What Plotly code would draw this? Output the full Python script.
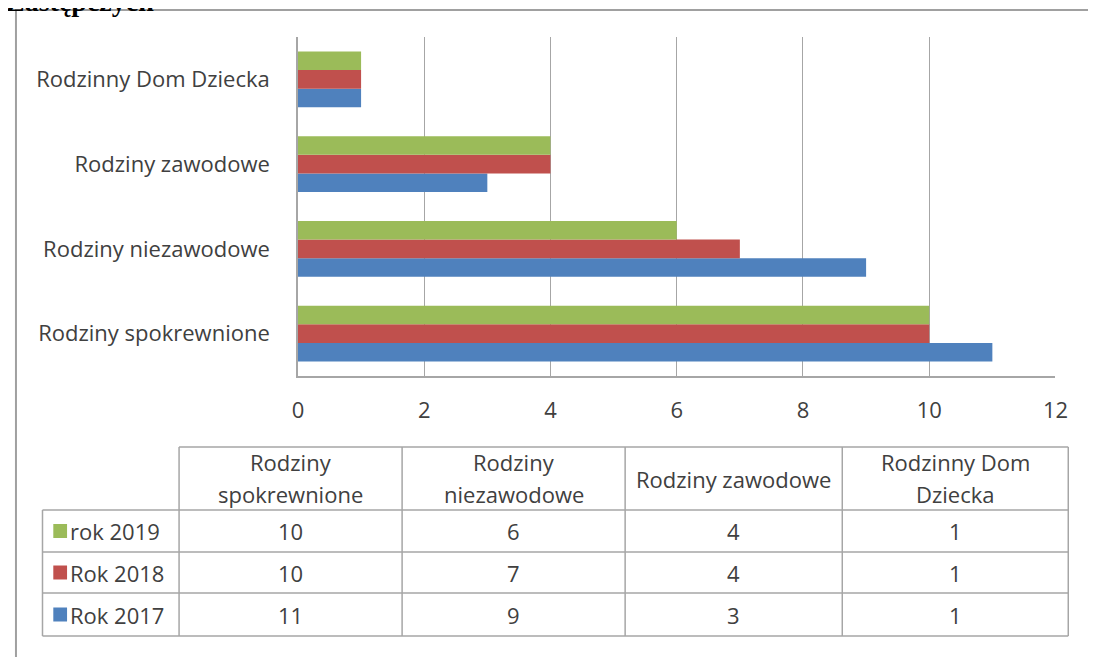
import plotly.graph_objects as go

# page body keeps its default 8px margin, so the figure starts at (8, 8)
OFF = 8
W, H = 1096 - OFF, 657 - OFF

categories = ["Rodziny spokrewnione", "Rodziny niezawodowe", "Rodziny zawodowe", "Rodzinny Dom Dziecka"]
header_lines = [["Rodziny", "spokrewnione"], ["Rodziny", "niezawodowe"], ["Rodziny zawodowe"], ["Rodzinny Dom", "Dziecka"]]
series_names = ["Rok 2017", "Rok 2018", "rok 2019"]
values_2017 = [11, 9, 3, 1]
values_2018 = [10, 7, 4, 1]
values_2019 = [10, 6, 4, 1]
colors = ["#4F81BD", "#C0504D", "#9BBB59"]
x_ticks = [0, 2, 4, 6, 8, 10, 12]

FONT = "Open Sans, Lato, sans-serif"
TXT = "#404040"
GRID = "#a6a6a6"
FS = 22


def px_x(p):
    return (p - OFF) / W


def px_y(p):
    return 1 - (p - OFF) / H


series = [values_2017, values_2018, values_2019]

traces = []
for name, vals, col in zip(series_names, series, colors):
    traces.append(
        go.Bar(
            y=categories,
            x=vals,
            name=name,
            orientation="h",
            marker=dict(color=col, line=dict(width=0)),
            showlegend=False,
        )
    )

fig = go.Figure(data=traces)

fig.update_layout(
    width=W,
    height=H,
    barmode="group",
    bargap=0.34,
    bargroupgap=0,
    margin=dict(l=0, r=0, t=0, b=0),
    paper_bgcolor="white",
    plot_bgcolor="white",
    font=dict(family=FONT, size=FS, color=TXT),
    xaxis=dict(
        domain=[px_x(297), px_x(1068)],
        range=[0, 12],
        tickvals=x_ticks,
        showgrid=True,
        gridcolor=GRID,
        gridwidth=1,
        zeroline=False,
        showline=True,
        linecolor=GRID,
        linewidth=1.5,
        ticks="",
        ticklabelstandoff=14,
        tickfont=dict(family=FONT, size=FS, color=TXT),
        fixedrange=True,
    ),
    yaxis=dict(
        domain=[px_y(376), px_y(37)],
        showgrid=False,
        showline=True,
        linecolor=GRID,
        linewidth=1.5,
        ticks="",
        ticklabelstandoff=22,
        tickfont=dict(family=FONT, size=FS, color=TXT),
        fixedrange=True,
    ),
)

# ---- data table under the chart (Excel style, legend keys in first column)
col_x = [37, 176, 403, 630, 851, 1081]
row_y = [447, 510, 552, 593, 636]
line = dict(color=GRID, width=1.5)


def hline(y, x0, x1):
    fig.add_shape(type="line", xref="paper", yref="paper",
                  x0=px_x(x0), x1=px_x(x1), y0=px_y(y), y1=px_y(y), line=line)


def vline(x, y0, y1):
    fig.add_shape(type="line", xref="paper", yref="paper",
                  x0=px_x(x), x1=px_x(x), y0=px_y(y0), y1=px_y(y1), line=line)


hline(row_y[0], col_x[1], col_x[-1])
for y in row_y[1:]:
    hline(y, col_x[0], col_x[-1])
vline(col_x[0], row_y[1], row_y[-1])
for x in col_x[1:]:
    vline(x, row_y[0], row_y[-1])

# header texts
for c, lines in enumerate(header_lines):
    cx = (col_x[c + 1] + col_x[c + 2]) / 2
    if len(lines) == 1:
        ys = [(row_y[0] + row_y[1]) / 2]
    else:
        ys = [row_y[0] + 15, row_y[0] + 47]
    for txt, yy in zip(lines, ys):
        fig.add_annotation(text=txt, xref="paper", yref="paper",
                           x=px_x(cx), y=px_y(yy), xanchor="center", yanchor="middle",
                           showarrow=False, font=dict(family=FONT, size=FS, color=TXT))

# body rows: 2019 on top, 2017 at the bottom
row_order = [2, 1, 0]
for r, si in enumerate(row_order):
    cy = (row_y[r + 1] + row_y[r + 2]) / 2
    fig.add_shape(type="rect", xref="paper", yref="paper",
                  x0=px_x(48), x1=px_x(62), y0=px_y(cy + 7), y1=px_y(cy - 7),
                  fillcolor=colors[si], line=dict(width=0))
    fig.add_annotation(text=series_names[si], xref="paper", yref="paper",
                       x=px_x(63), y=px_y(cy), xanchor="left", yanchor="middle",
                       showarrow=False, font=dict(family=FONT, size=FS, color=TXT))
    for c in range(len(categories)):
        cx = (col_x[c + 1] + col_x[c + 2]) / 2
        fig.add_annotation(text=str(series[si][c]), xref="paper", yref="paper",
                           x=px_x(cx), y=px_y(cy), xanchor="center", yanchor="middle",
                           showarrow=False, font=dict(family=FONT, size=FS, color=TXT))

# outer frame of the pasted chart
fig.add_shape(
    type="rect",
    xref="paper",
    yref="paper",
    x0=px_x(10),
    x1=px_x(1110),
    y0=px_y(680),
    y1=px_y(10),
    line=dict(color="#a0a0a0", width=2),
    fillcolor="rgba(0,0,0,0)",
    layer="above",
)

# cut-off heading from the document above the chart
fig.add_annotation(
    text="<b>Zastępczych</b>",
    xref="paper",
    yref="paper",
    x=px_x(-2),
    y=px_y(19),
    xanchor="left",
    yanchor="bottom",
    showarrow=False,
    font=dict(family="Liberation Serif, Times New Roman, serif", size=28, color="black"),
)

fig.write_html("out.html")
